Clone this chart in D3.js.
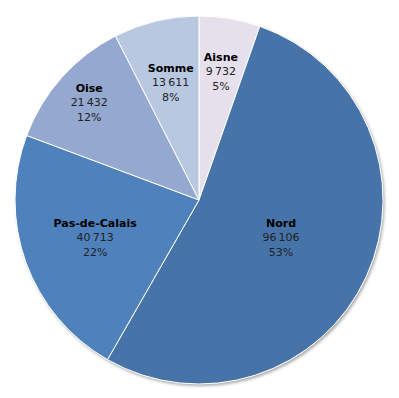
<!DOCTYPE html>
<html>
<head>
<meta charset="utf-8">
<script src="https://cdn.jsdelivr.net/npm/d3@7"></script>
<style>
  body { margin: 0; background: #fff; }
  text { font-family: "DejaVu Sans", Verdana, sans-serif; }
</style>
</head>
<body>
<div id="chart"></div>
<script>
// departement data
let names = ['Aisne', 'Nord', 'Pas-de-Calais', 'Oise', 'Somme']
let counts = [9732, 96106, 40713, 21432, 13611]
let pcts = ['5%', '53%', '22%', '12%', '8%']
let colors = ['#e6e0ec', '#4673a8', '#4f81bd', '#95a9d0', '#b9c8e1']
// label distance from centre, as share of radius (excel best fit)
let labelPos = [0.71, 0.49, 0.60, 0.80, 0.66]

let width = 399, height = 398
let cx = 199, cy = 200, r = 184

let svg = d3.select('#chart').append('svg')
  .attr('width', width)
  .attr('height', height)

let defs = svg.append('defs')
let f = defs.append('filter').attr('id', 'shadow')
  .attr('x', '-10%').attr('y', '-10%').attr('width', '120%').attr('height', '120%')
f.append('feDropShadow')
  .attr('dx', 1.5).attr('dy', 2)
  .attr('stdDeviation', 1.5)
  .attr('flood-color', '#000')
  .attr('flood-opacity', 0.35)

let g = svg.append('g').attr('transform', 'translate(' + cx + ',' + cy + ')')

let data = names.map((n, i) => ({ name: n, value: counts[i], pct: pcts[i], color: colors[i], pos: labelPos[i] }))

let pie = d3.pie().value(d => d.value).sort(null)
let arc = d3.arc().innerRadius(0).outerRadius(r)

g.append('circle').attr('r', r).attr('fill', '#fff').attr('filter', 'url(#shadow)')

g.selectAll('path').data(pie(data)).enter()
  .append('path')
  .attr('d', arc)
  .attr('fill', d => d.data.color)
  .attr('stroke', '#fff')
  .attr('stroke-width', 1)

let fmt = function(v) {
  return d3.format(',')(v).replace(/,/g, '\u2009')
}

let labels = g.selectAll('.lbl').data(pie(data)).enter()
  .append('g')
  .attr('class', 'lbl')
  .attr('transform', function(d) {
    let la = d3.arc().innerRadius(r * d.data.pos).outerRadius(r * d.data.pos)
    let c = la.centroid(d)
    return 'translate(' + c[0] + ',' + c[1] + ')'
  })

labels.append('text')
  .attr('text-anchor', 'middle')
  .attr('y', -10)
  .style('font-size', '11px')
  .style('font-weight', 'bold')
  .attr('fill', '#000')
  .text(d => d.data.name)

labels.append('text')
  .attr('text-anchor', 'middle')
  .attr('y', 4)
  .style('font-size', '11px')
  .attr('fill', '#222')
  .text(d => fmt(d.data.value))

labels.append('text')
  .attr('text-anchor', 'middle')
  .attr('y', 19)
  .style('font-size', '11px')
  .attr('fill', '#222')
  .text(d => d.data.pct)
</script>
</body>
</html>
